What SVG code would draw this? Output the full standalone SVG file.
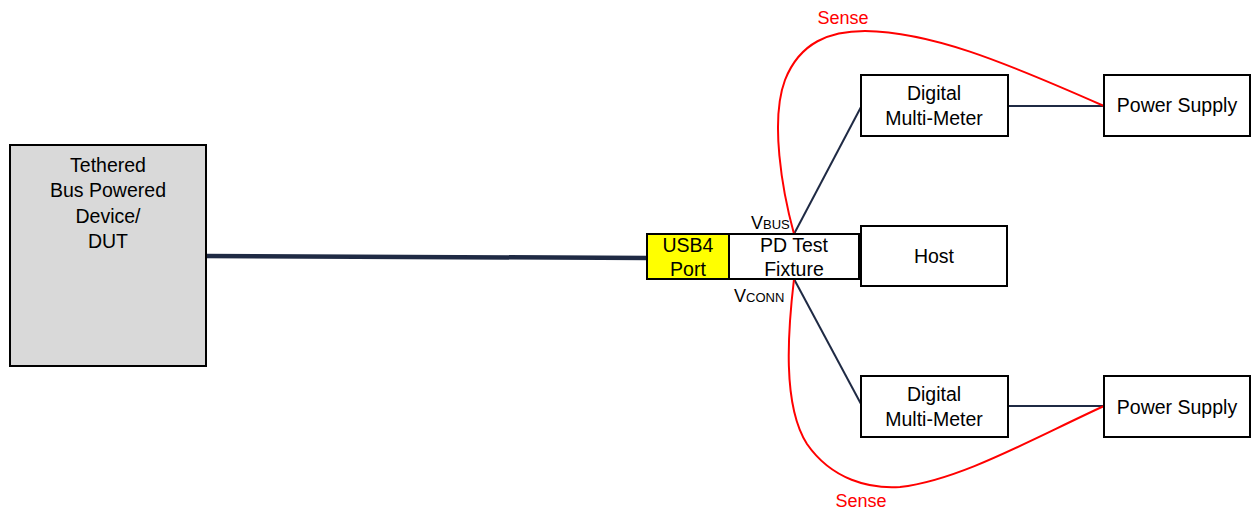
<svg xmlns="http://www.w3.org/2000/svg" width="1252" height="514" viewBox="0 0 1252 514">
<style>
.box{fill:#fff;stroke:#000;stroke-width:2}
.t{font-family:"Liberation Sans",Arial,sans-serif;font-size:19.5px;fill:#000;text-anchor:middle}
.s{font-family:"Liberation Sans",Arial,sans-serif;font-size:18px;fill:#ff0000;text-anchor:middle}
.w{fill:none;stroke:#1f2a44;stroke-width:2}
.r{fill:none;stroke:#ff0000;stroke-width:2}
</style>
<rect width="1252" height="514" fill="#fff"/>
<g id="connectors">
<line x1="205" y1="256" x2="648" y2="258" stroke="#1f2a44" stroke-width="4.5" stroke-linecap="round"/>
<line class="w" x1="794" y1="234" x2="861" y2="107"/>
<line class="w" x1="794" y1="279" x2="861" y2="404"/>
<line class="w" x1="1008" y1="106" x2="1104" y2="106"/>
<line class="w" x1="1008" y1="406" x2="1104" y2="406"/>
<path class="r" d="M794,234 C782,190 770,120 785,80 C800,42 830,31 865,31 C930,32 1000,60 1104,106"/>
<path class="r" d="M794,279 C788,330 782,405 807,444 C832,480 870,489 900,487 C960,480 1030,440 1104,406"/>
<text class="s" x="843" y="24">Sense</text>
<text class="s" x="861" y="507">Sense</text>
<text font-family="Liberation Sans,Arial,sans-serif" font-size="18" x="751" y="229">V<tspan font-size="13">BUS</tspan></text>
<text font-family="Liberation Sans,Arial,sans-serif" font-size="18" x="734" y="302">V<tspan font-size="13">CONN</tspan></text>
</g>
<g id="dut">
<rect x="10" y="145" width="196" height="221" fill="#d9d9d9" stroke="#000" stroke-width="2"/>
<text class="t" x="108" y="172">Tethered</text>
<text class="t" x="108" y="197">Bus Powered</text>
<text class="t" x="108" y="223">Device/</text>
<text class="t" x="108" y="248">DUT</text>
</g>
<g id="usb4">
<rect x="647" y="234" width="82" height="45" fill="#ffff00" stroke="#000" stroke-width="2"/>
<text class="t" x="688" y="252">USB4</text>
<text class="t" x="688" y="276">Port</text>
</g>
<g id="fixture">
<rect class="box" x="729" y="234" width="130" height="45"/>
<text class="t" x="794" y="252">PD Test</text>
<text class="t" x="794" y="276">Fixture</text>
</g>
<g id="host">
<rect class="box" x="861" y="226" width="146" height="60"/>
<text class="t" x="934" y="263">Host</text>
</g>
<g id="dmm-top">
<rect class="box" x="861" y="75" width="147" height="61"/>
<text class="t" x="934" y="100">Digital</text>
<text class="t" x="934" y="125">Multi-Meter</text>
</g>
<g id="ps-top">
<rect class="box" x="1104" y="75" width="146" height="61"/>
<text class="t" x="1177" y="112">Power Supply</text>
</g>
<g id="dmm-bottom">
<rect class="box" x="861" y="376" width="147" height="61"/>
<text class="t" x="934" y="401">Digital</text>
<text class="t" x="934" y="426">Multi-Meter</text>
</g>
<g id="ps-bottom">
<rect class="box" x="1104" y="376" width="146" height="61"/>
<text class="t" x="1177" y="414">Power Supply</text>
</g>
</svg>
